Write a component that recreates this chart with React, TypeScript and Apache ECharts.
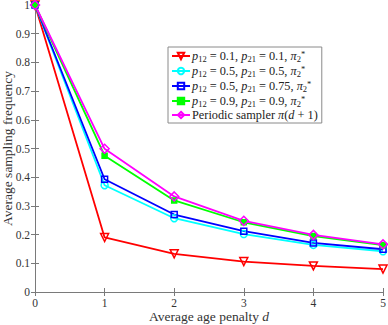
import React, { useEffect, useRef } from "react";
import * as echarts from "echarts";

const penalties = [0, 1, 2, 3, 4, 5];
const redVals = [1, 0.19, 0.133, 0.106, 0.091, 0.08];
const cyanVals = [1, 0.372, 0.257, 0.202, 0.164, 0.142];
const blueVals = [1, 0.393, 0.27, 0.212, 0.171, 0.149];
const greenVals = [1, 0.475, 0.319, 0.243, 0.195, 0.163];
const periodicVals = [1, 0.499, 0.333, 0.248, 0.199, 0.166];
const seriesNames = ["s1", "s2", "s3", "s4", "s5"];
const legendLabels: Record<string, string> = {
  s1: "{i|p}{sub|12}{t| = 0.1, }{i|p}{sub|21}{t| = 0.1, }{i|π}{sub|2}{sup|*}",
  s2: "{i|p}{sub|12}{t| = 0.5, }{i|p}{sub|21}{t| = 0.5, }{i|π}{sub|2}{sup|*}",
  s3: "{i|p}{sub|12}{t| = 0.5, }{i|p}{sub|21}{t| = 0.75, }{i|π}{sub|2}{sup|*}",
  s4: "{i|p}{sub|12}{t| = 0.9, }{i|p}{sub|21}{t| = 0.9, }{i|π}{sub|2}{sup|*}",
  s5: "{t|Periodic sampler }{i|π}{t|(}{i|d}{t| + 1)}",
};

const FONT = "Liberation Serif";
const LF = 12.3;

export default function App() {
  const ref = useRef<HTMLDivElement>(null);
  useEffect(() => {
    if (!ref.current) return;
    const chart = echarts.init(ref.current, undefined, { renderer: "svg" });
    const mk = (
      name: string,
      vals: number[],
      color: string,
      symbol: string,
      size: number,
      filled: boolean,
      rotate = 0
    ) => ({
      name,
      type: "line",
      data: penalties.map((p, i) => [p, vals[i]]),
      symbol,
      symbolSize: size,
      symbolRotate: rotate,
      showAllSymbol: true,
      color,
      lineStyle: { color, width: 1.8 },
      itemStyle: {
        color: filled ? color : "rgba(255,255,255,0)",
        borderColor: color,
        borderWidth: 1.5,
      },
      z: 3,
    });
    const axisLine = { show: true, lineStyle: { color: "#7a7a7a", width: 1 } };
    chart.setOption({
      animation: false,
      grid: { left: 35, right: 5, top: 5, bottom: 33, outerBoundsMode: "none", containLabel: false },
      xAxis: [
        {
          type: "value",
          min: 0,
          max: 5,
          interval: 1,
          name: "Average age penalty {i|d}",
          nameLocation: "middle",
          nameGap: 17,
          nameMoveOverlap: false,
          nameTextStyle: {
            fontFamily: FONT,
            fontSize: 13.5,
            color: "#333",
            rich: { i: { fontFamily: FONT, fontStyle: "italic", fontSize: 13.5, color: "#333" } },
          },
          axisLine,
          axisTick: { show: true, inside: true, length: 4, lineStyle: { color: "#7a7a7a" } },
          axisLabel: { fontFamily: FONT, fontSize: 11.5, color: "#333", margin: 5 },
          splitLine: { show: false },
        },
        {
          type: "value",
          position: "top",
          min: 0,
          max: 5,
          interval: 1,
          axisLine,
          axisTick: { show: true, inside: true, length: 4, lineStyle: { color: "#7a7a7a" } },
          axisLabel: { show: false },
          splitLine: { show: false },
        },
      ],
      yAxis: [
        {
          type: "value",
          min: 0,
          max: 1,
          interval: 0.1,
          name: "Average sampling frequency",
          nameLocation: "middle",
          nameGap: 20.5,
          nameMoveOverlap: false,
          nameTextStyle: { fontFamily: FONT, fontSize: 13.5, color: "#333" },
          axisLine,
          axisTick: { show: true, inside: true, length: 4, lineStyle: { color: "#7a7a7a" } },
          axisLabel: { fontFamily: FONT, fontSize: 11.5, color: "#333", margin: 5 },
          splitLine: { show: false },
        },
        {
          type: "value",
          position: "right",
          min: 0,
          max: 1,
          interval: 0.1,
          axisLine,
          axisTick: { show: true, inside: true, length: 4, lineStyle: { color: "#7a7a7a" } },
          axisLabel: { show: false },
          splitLine: { show: false },
        },
      ],
      legend: {
        orient: "vertical",
        left: 168,
        top: 47,
        backgroundColor: "#fff",
        borderColor: "#8a8a8a",
        borderWidth: 1,
        borderRadius: 0,
        padding: [2, 4, 2, 3],
        itemGap: 1,
        itemWidth: 18,
        itemHeight: 8,
        data: seriesNames,
        formatter: (n: string) => legendLabels[n],
        textStyle: {
          fontFamily: FONT,
          fontSize: LF,
          color: "#222",
          padding: [0, 0, 0, -3],
          rich: {
            t: { fontFamily: FONT, fontSize: LF, color: "#222", lineHeight: 14 },
            i: { fontFamily: FONT, fontStyle: "italic", fontSize: LF, color: "#222", lineHeight: 14 },
            sub: { fontFamily: FONT, fontSize: 8.5, color: "#222", lineHeight: 14, verticalAlign: "bottom", padding: [5, 0, 0, 0] },
            sup: { fontFamily: FONT, fontSize: 8.5, color: "#222", lineHeight: 14, verticalAlign: "top", padding: [0, 0, 4, 0] },
          },
        },
      },
      series: [
        mk("s1", redVals, "#ff0000", "triangle", 8, false, 180),
        mk("s2", cyanVals, "#00ffff", "circle", 7, false),
        mk("s3", blueVals, "#0000ff", "rect", 6, false),
        mk("s4", greenVals, "#00ff00", "rect", 5, true),
        mk("s5", periodicVals, "#ff00ff", "diamond", 9, false),
      ],
    });
    return () => chart.dispose();
  }, []);
  return <div ref={ref} style={{ width: 388, height: 325, position: "absolute", left: 0, top: 0 }} />;
}
